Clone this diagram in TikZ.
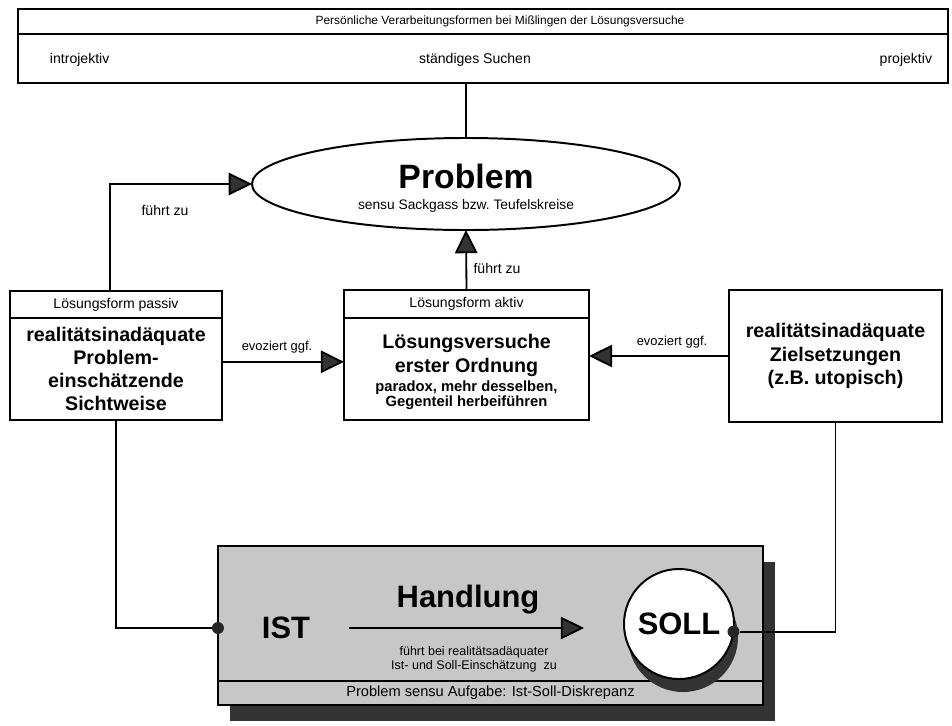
\documentclass[tikz,border=0pt]{standalone}
\usepackage{fontspec}
\setmainfont{Liberation Sans}
\usetikzlibrary{positioning,shapes.geometric,arrows.meta,backgrounds}

\definecolor{hgrau}{gray}{0.78}
\definecolor{schatten}{gray}{0.2}

\tikzset{
  box/.style={draw, line width=1.4pt, fill=white, inner sep=0pt, outer sep=0pt, align=center},
  linie/.style={line width=1.3pt},
  pfeil/.style={line width=1.3pt, -{Triangle[length=0.58cm,width=0.56cm,fill=black!80]}},
  punkt/.style={circle, fill=black!85, minimum size=0.3cm, inner sep=0pt},
  klein/.style={font=\fontsize{9.2}{11}\selectfont},
  gross/.style={font=\fontsize{22}{24}\selectfont\bfseries},
}

\begin{document}
\begin{tikzpicture}[x=0.025cm, y=-0.025cm]
  \useasboundingbox (0,0) rectangle (952,725);

  % Kopfzeile
  \node[box, minimum width=23.25cm, minimum height=0.625cm] (tophead) at (483,21.5) {};
  \node[box, minimum width=23.25cm, minimum height=1.225cm, below=0pt of tophead] (topbody) {};
  \node[font=\fontsize{8.5}{10}\selectfont] (titel) at (500,21) {Persönliche Verarbeitungsformen bei Mißlingen der Lösungsversuche};
  \node[font=\fontsize{10}{12}\selectfont, anchor=west] (intro) at (45,60) {introjektiv};
  \node[font=\fontsize{10}{12}\selectfont] (suchen) at (475,60) {ständiges Suchen};
  \node[font=\fontsize{10}{12}\selectfont, anchor=east] (proj) at (937,60) {projektiv};

  % Problem
  \node[box, ellipse, minimum width=10.7cm, minimum height=2.3cm] (problem) at (466,184) {};
  \node[font=\fontsize{24}{26}\selectfont\bfseries] (problemtxt) at (466,176) {Problem};
  \node[font=\fontsize{9.8}{11}\selectfont] (sensu) at (466,206) {sensu Sackgass bzw.\ Teufelskreise};

  % Loesungsformen
  \node[box, minimum width=5.3cm, minimum height=0.675cm, font=\fontsize{10}{12}\selectfont] (passivhead) at (116,304.5) {Lösungsform passiv};
  \node[box, minimum width=5.3cm, minimum height=2.55cm, below=0pt of passivhead, font=\fontsize{14}{16.5}\selectfont\bfseries] (passivbody) {realitätsinadäquate\\Problem-\\einschätzende\\Sichtweise};

  \node[box, minimum width=6.125cm, minimum height=0.7cm, font=\fontsize{10}{12}\selectfont] (aktivhead) at (466.5,304) {Lösungsform aktiv};
  \node[box, minimum width=6.125cm, minimum height=2.55cm, below=0pt of aktivhead] (aktivbody) {};
  \node[align=center, font=\fontsize{14}{17}\selectfont\bfseries] (aktivtitel) at (466.5,355) {Lösungsversuche\\erster Ordnung};
  \node[align=center, font=\fontsize{10.5}{11}\selectfont\bfseries] (aktivtext) at (466.5,395) {paradox, mehr desselben,\\Gegenteil herbeiführen};

  \node[box, minimum width=5.325cm, minimum height=3.3cm, font=\fontsize{14}{16.5}\selectfont\bfseries] (ziel) at (835.5,356) {realitätsinadäquate\\Zielsetzungen\\(z.B. utopisch)};

  % Handlung
  \node[box, fill=hgrau, minimum width=13.625cm, minimum height=3.375cm] (hbox) at (490.5,613.5) {};
  \node[box, fill=hgrau, minimum width=13.625cm, minimum height=0.6cm, below=0pt of hbox, font=\fontsize{10.4}{12}\selectfont] (hleiste) {Problem sensu Aufgabe: Ist-Soll-Diskrepanz};
  \begin{scope}[on background layer]
    \fill[schatten] ([xshift=0.3cm,yshift=-0.4cm]hbox.north west) rectangle ([xshift=0.3cm,yshift=-0.4cm]hleiste.south east);
  \end{scope}
  \fill[schatten] (683,637) circle (1.375cm);
  \node[box, circle, minimum size=2.75cm, gross] (soll) at (679,624) {SOLL};
  \node[gross] (ist) at (286,628) {IST};
  \node[gross] (handlung) at (468,600) {Handlung};
  \node[align=center, font=\fontsize{8.9}{10}\selectfont] (hinweis) at (474,659) {führt bei realitätsadäquater\\Ist- und Soll-Einschätzung\ \ zu};
  \node[punkt] (istdot) at (hbox.west |- ist) {};
  \node[punkt] (solldot) at (soll.-8) {};

  % Verbindungen
  \draw[linie] (problem.north) -- (problem.north |- topbody.south);
  \draw[pfeil] ([xshift=-0.15cm]passivhead.north) |- (problem.west);
  \draw[pfeil] (aktivhead.north) -- (problem.south);
  \coordinate (evl) at ([yshift=0.18cm]passivbody.east);
  \draw[pfeil] (evl) -- (evl -| aktivbody.west);
  \draw[pfeil] (ziel.west) -- (ziel.west -| aktivbody.east);
  \draw[linie] (passivbody.south) |- (istdot);
  \draw[linie] (ziel.south) |- (solldot);
  \draw[pfeil, shorten <=0.85cm, shorten >=1cm] (ist.east) -- (ist.east -| soll.west);

  \node[klein, font=\fontsize{10}{12}\selectfont] (fz1) at (165,210) {führt zu};
  \node[klein, font=\fontsize{10}{12}\selectfont] (fz2) at (497,268) {führt zu};
  \node[klein] (ev1) at (277,347) {evoziert ggf.};
  \node[klein] (ev2) at (672,342) {evoziert ggf.};
\end{tikzpicture}
\end{document}
